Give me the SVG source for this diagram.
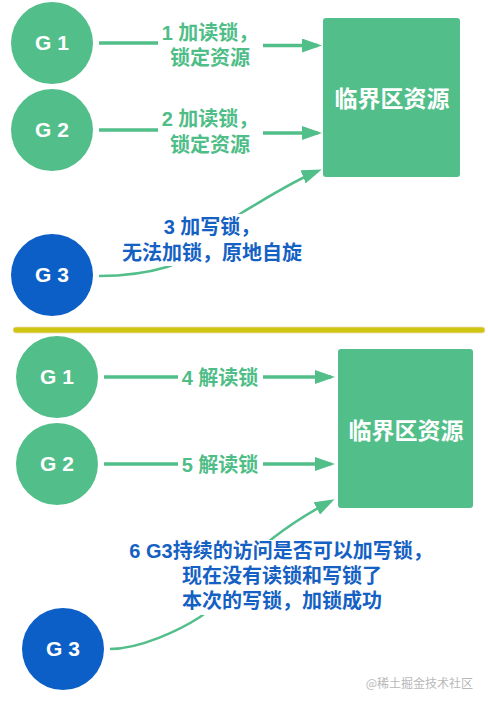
<svg xmlns="http://www.w3.org/2000/svg" width="488" height="701" viewBox="0 0 488 701">
<defs>
<marker id="ah" viewBox="0 0 20 14" refX="16" refY="7" markerWidth="20" markerHeight="14" markerUnits="userSpaceOnUse" orient="auto">
<path d="M0,0 L20,7 L0,14 Z" fill="#52be89"/>
</marker>
</defs>
<style>
.g{fill:#52be89}
.b{fill:#0b5fc6}
.nt{font-family:"Liberation Sans",Arial,sans-serif;font-weight:bold;font-size:21px;fill:#fff;text-anchor:middle}
.rt{font-family:"Liberation Sans","Noto Sans CJK SC",sans-serif;font-weight:bold;font-size:23px;fill:#fff;text-anchor:middle}
.lg{font-family:"Liberation Sans","Noto Sans CJK SC",sans-serif;font-weight:bold;font-size:20px;fill:#4fbd87;text-anchor:middle}
.lb{font-family:"Liberation Sans","Noto Sans CJK SC",sans-serif;font-weight:bold;font-size:20px;fill:#1561c3;text-anchor:middle}
.st{fill:none;stroke:#52be89;stroke-width:3.5}
.cv{fill:none;stroke:#52be89;stroke-width:2.5}
</style>
<rect width="488" height="701" fill="#fff"/>

<g id="connectors">
<path class="st" d="M99,43 H158 M263,45.5 H318" marker-end="url(#ah)"/>
<path class="st" d="M99,130 H158 M263,133 H318" marker-end="url(#ah)"/>
<path class="cv" d="M99,276 C130,276 150,272 167,267 C195,258 215,228 243,212 C270,196 295,180 318,171" marker-end="url(#ah)"/>
<path class="st" d="M104,377 H178 M263,377 H331" marker-end="url(#ah)"/>
<path class="st" d="M104,464 H178 M263,464 H331" marker-end="url(#ah)"/>
<path class="cv" d="M110,649 C140,649 180,630 200,617 C230,597 250,555 273,538 C290,525 310,512 331,501" marker-end="url(#ah)"/>
</g>

<g id="label1">
<text class="lg" x="210" y="40">1 加读锁，</text>
<text class="lg" x="210" y="65">锁定资源</text>
</g>
<g id="label2">
<text class="lg" x="210" y="126">2 加读锁，</text>
<text class="lg" x="210" y="152">锁定资源</text>
</g>
<g id="label3">
<rect x="118" y="214" width="190" height="52" fill="#fff"/>
<text class="lb" x="212" y="234">3 加写锁，</text>
<text class="lb" x="212" y="260">无法加锁，原地自旋</text>
</g>
<g id="label4">
<text class="lg" x="220" y="385">4 解读锁</text>
</g>
<g id="label5">
<text class="lg" x="220" y="472">5 解读锁</text>
</g>
<g id="label6">
<rect x="128" y="540" width="304" height="75" fill="#fff"/>
<text class="lb" x="281" y="558">6 G3持续的访问是否可以加写锁，</text>
<text class="lb" x="282" y="583">现在没有读锁和写锁了</text>
<text class="lb" x="282" y="608">本次的写锁，加锁成功</text>
</g>

<g id="top-g1"><circle class="g" cx="52" cy="43" r="41"/><text class="nt" x="52" y="50">G 1</text></g>
<g id="top-g2"><circle class="g" cx="52" cy="130" r="41"/><text class="nt" x="52" y="137">G 2</text></g>
<g id="top-g3"><circle class="b" cx="52" cy="275" r="41"/><text class="nt" x="52" y="282">G 3</text></g>
<g id="top-resource"><rect class="g" x="323" y="18" width="137" height="159" rx="3"/><text class="rt" x="392" y="107">临界区资源</text></g>

<g id="separator"><rect x="13" y="327" width="472" height="6" rx="3" fill="#cfc513" stroke="#efd9b0" stroke-width="0.8"/></g>

<g id="bot-g1"><circle class="g" cx="57" cy="377" r="41"/><text class="nt" x="57" y="384">G 1</text></g>
<g id="bot-g2"><circle class="g" cx="57" cy="464" r="41"/><text class="nt" x="57" y="471">G 2</text></g>
<g id="bot-g3"><circle class="b" cx="63" cy="649" r="41"/><text class="nt" x="63" y="656">G 3</text></g>
<g id="bot-resource"><rect class="g" x="338" y="349" width="135" height="159" rx="3"/><text class="rt" x="406" y="439">临界区资源</text></g>

<text x="473" y="688" font-family="Noto Sans CJK SC, sans-serif" font-size="12" fill="#b8b8b8" text-anchor="end">@稀土掘金技术社区</text>
</svg>
